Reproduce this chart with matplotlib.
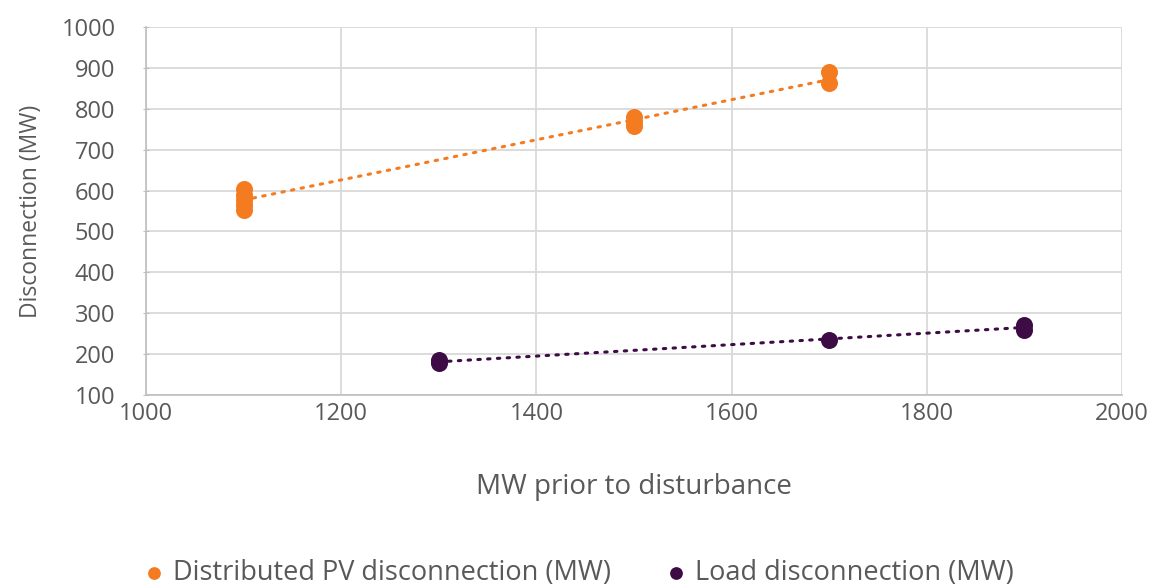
import matplotlib
matplotlib.use("Agg")
import matplotlib.pyplot as plt
import numpy as np

plt.rcParams['font.family'] = ['Open Sans', 'DejaVu Sans']

# Data
pv_x = [1100, 1100, 1100, 1100, 1100, 1500, 1500, 1500, 1700, 1700]
pv_y = [552, 565, 578, 590, 604, 758, 768, 780, 890, 862]
load_x = [1300, 1300, 1700, 1900, 1900]
load_y = [185, 178, 235, 272, 260]

pv_label = "Distributed PV disconnection (MW)"
load_label = "Load disconnection (MW)"
x_label = "MW prior to disturbance"
y_label = "Disconnection (MW)"
x_ticks = [1000, 1200, 1400, 1600, 1800, 2000]
y_ticks = [100, 200, 300, 400, 500, 600, 700, 800, 900, 1000]

orange = '#F47B20'
purple = '#3D0C45'
grid_c = '#D9D9D9'
text_c = '#595959'

fig = plt.figure(figsize=(11.57, 5.86), dpi=100)
ax = fig.add_axes([146/1157, 1-395/586, (1122-146)/1157, (395-27)/586])

ax.scatter(pv_x, pv_y, s=150, color=orange, zorder=3, label=pv_label, linewidths=0)
ax.scatter(load_x, load_y, s=150, color=purple, zorder=3, label=load_label, linewidths=0)

for xs, ys, c in [(pv_x, pv_y, orange), (load_x, load_y, purple)]:
    m, b = np.polyfit(xs, ys, 1)
    xx = np.array([min(xs), max(xs)])
    ax.plot(xx, m*xx + b, color=c, lw=2.2, linestyle=(0, (0.8, 2.4)),
            dash_capstyle='round', zorder=2)

ax.set_xlim(1000, 2000)
ax.set_ylim(100, 1000)
ax.set_xticks(x_ticks)
ax.set_yticks(y_ticks)
ax.grid(True, color=grid_c, lw=1.3)
ax.set_axisbelow(True)
for s in ['top', 'right']:
    ax.spines[s].set_visible(False)
for s in ['left', 'bottom']:
    ax.spines[s].set_color('#BFBFBF')
    ax.spines[s].set_linewidth(1.2)
ax.tick_params(axis='both', colors=text_c, labelsize=17, length=0)
ax.tick_params(axis='x', pad=5)
ax.tick_params(axis='y', length=4, color='#BFBFBF', direction='inout', pad=20)
ax.set_xlabel(x_label, fontsize=20, color=text_c, labelpad=34)
ax.set_ylabel(y_label, fontsize=16.5, color=text_c, labelpad=13)

leg = fig.legend(loc='center', bbox_to_anchor=(0.5, 0.022), ncol=2, frameon=False,
                 fontsize=19.5, labelcolor=text_c, handlelength=0.8, handletextpad=0.3,
                 columnspacing=2.0, markerscale=0.75)

fig.savefig('out.png', dpi=100)
